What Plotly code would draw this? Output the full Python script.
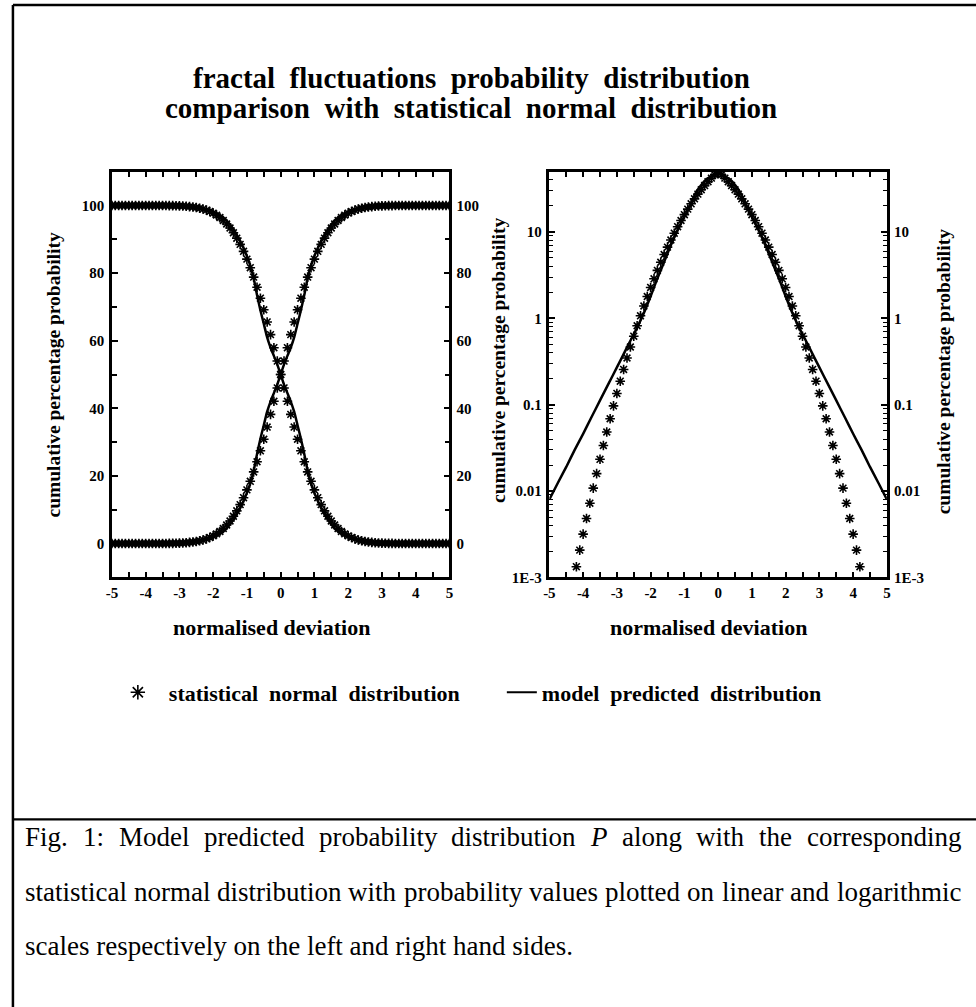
import plotly.graph_objects as go

W, H = 976, 1007
FONT = "Liberation Serif"

# ---------------- data ----------------
# normalised deviation t >= 0 for the statistical normal distribution
t_norm = [0.0, 0.1, 0.2, 0.3, 0.4, 0.5, 0.6, 0.7, 0.8, 0.9,
          1.0, 1.1, 1.2, 1.3, 1.4, 1.5, 1.6, 1.7, 1.8, 1.9,
          2.0, 2.1, 2.2, 2.3, 2.4, 2.5, 2.6, 2.7, 2.8, 2.9,
          3.0, 3.1, 3.2, 3.3, 3.4, 3.5, 3.6, 3.7, 3.8, 3.9,
          4.0, 4.1, 4.2, 4.3, 4.4, 4.5, 4.6, 4.7, 4.8, 4.9, 5.0]
# tail (cumulative) percentage probability of the statistical normal distribution
tail_norm = [50.0, 46.02, 42.07, 38.21, 34.46, 30.85, 27.43, 24.20, 21.19, 18.41,
             15.87, 13.57, 11.51, 9.68, 8.08, 6.68, 5.48, 4.46, 3.59, 2.87,
             2.28, 1.79, 1.39, 1.07, 0.820, 0.621, 0.466, 0.347, 0.256, 0.187,
             0.135, 0.0968, 0.0687, 0.0483, 0.0337, 0.0233, 0.0159, 0.0108, 0.00723, 0.00481,
             0.00317, 0.00207, 0.00133, 0.000854, 0.000541, 0.000340, 0.000211, 0.000130,
             0.0000793, 0.0000479, 0.0000287]

# model predicted distribution, tail percentage probability
t_model = [0.0, 0.1, 0.2, 0.3, 0.4, 0.5, 0.6, 0.7, 0.8, 0.9, 1.0, 1.1, 1.2,
           1.4, 1.6, 1.8, 2.0, 2.2, 2.4, 2.6, 2.8, 3.0, 3.25, 3.5, 3.75,
           4.0, 4.25, 4.5, 4.75, 5.0]
tail_model = [50.0, 47.0, 44.5, 42.0, 39.0, 35.0, 31.0, 26.5, 21.5, 17.8, 15.0, 12.6, 10.5,
              7.0, 4.5, 2.9, 1.8, 1.15, 0.78, 0.55, 0.385, 0.27, 0.174, 0.112, 0.072,
              0.046, 0.030, 0.019, 0.0124, 0.008]

x_ticks = [-5, -4, -3, -2, -1, 0, 1, 2, 3, 4, 5]
x_tick_text = ["-5", "-4", "-3", "-2", "-1", "0", "1", "2", "3", "4", "5"]
lin_ticks = [0, 20, 40, 60, 80, 100]
lin_tick_text = ["0", "20", "40", "60", "80", "100"]
log_ticks = [0.001, 0.01, 0.1, 1, 10]
log_tick_text = ["1E-3", "0.01", "0.1", "1", "10"]
log_minor = [2e-3, 3e-3, 4e-3, 5e-3, 6e-3, 7e-3, 8e-3, 9e-3,
             2e-2, 3e-2, 4e-2, 5e-2, 6e-2, 7e-2, 8e-2, 9e-2,
             0.2, 0.3, 0.4, 0.5, 0.6, 0.7, 0.8, 0.9,
             2, 3, 4, 5, 6, 7, 8, 9, 20, 30, 40]

title_lines = ["fractal fluctuations probability distribution",
               "comparison with statistical normal distribution"]
x_title = "normalised deviation"
y_title = "cumulative percentage probability"
legend_names = ["statistical normal distribution", "model predicted distribution"]
caption_lines = [
    "Fig. 1: Model predicted probability distribution <i>P</i> along with the corresponding",
    "statistical normal distribution with probability values plotted on linear and logarithmic",
    "scales respectively on the left and right hand sides.",
]
caption_justify = [True, True, False]


# ---------------- helpers ----------------
def px(x):
    return x / W


def py(y):
    return 1 - y / H


def mirror(ts, vals):
    xs = [-t for t in reversed(ts[1:])] + list(ts)
    tails = list(reversed(vals[1:])) + list(vals)
    rising = list(reversed(vals[1:])) + [100 - v for v in vals]
    falling = [100 - r for r in rising]
    return xs, tails, rising, falling


def spaced(s, n=2):
    return ("\u00a0" * n).join(s.split(" "))


xn, tailn, risen, falln = mirror(t_norm, tail_norm)
xm, tailm, risem, fallm = mirror(t_model, tail_model)

star = dict(symbol="asterisk-open", size=8, color="black", line=dict(width=1.6, color="black"))
solid = dict(color="black", width=2.5, shape="spline", smoothing=0.6)

fig = go.Figure()
# left (linear) panel
fig.add_trace(go.Scatter(x=xn, y=risen, mode="markers", marker=star, xaxis="x", yaxis="y", showlegend=False))
fig.add_trace(go.Scatter(x=xn, y=falln, mode="markers", marker=star, xaxis="x", yaxis="y", showlegend=False))
fig.add_trace(go.Scatter(x=xm, y=risem, mode="lines", line=solid, xaxis="x", yaxis="y2", showlegend=False))
fig.add_trace(go.Scatter(x=xm, y=fallm, mode="lines", line=solid, xaxis="x", yaxis="y2", showlegend=False))
# right (log) panel
fig.add_trace(go.Scatter(x=xn, y=tailn, mode="markers", marker=star, xaxis="x2", yaxis="y3", showlegend=False))
fig.add_trace(go.Scatter(x=xm, y=tailm, mode="lines", line=solid, xaxis="x2", yaxis="y4", showlegend=False))
# legend entries
fig.add_trace(go.Scatter(x=[None], y=[None], mode="markers", name="\u00a0\u00a0" + spaced(legend_names[0]),
                         marker=dict(symbol="asterisk-open", size=12, color="black", line=dict(width=1.6, color="black")),
                         xaxis="x", yaxis="y", showlegend=True))
fig.add_trace(go.Scatter(x=[None], y=[None], mode="lines", name=spaced(legend_names[1]),
                         line=dict(color="black", width=2), xaxis="x", yaxis="y", showlegend=True))

TICKFONT = dict(family=FONT, size=15, color="black", weight="bold")
LX = [107 / W, 448 / W]
RX = [549 / W, 890 / W]
YD = [1 - 582 / H, 1 - 173 / H]

frame = dict(showline=True, linewidth=2.5, linecolor="black", mirror="allticks", ticks="inside",
             ticklen=6, tickwidth=1.5, tickcolor="black", showgrid=False, zeroline=False,
             tickfont=TICKFONT, fixedrange=True)


def xaxis(domain, anchor):
    d = dict(frame)
    d.update(domain=domain, anchor=anchor, range=[-5, 5], tickmode="array",
             tickvals=x_ticks, ticktext=x_tick_text,
             minor=dict(ticks="inside", tick0=0, dtick=0.5, ticklen=5, tickwidth=1.5,
                        tickcolor="black", showgrid=False))
    return d


yl = dict(frame)
yl.update(domain=YD, anchor="x", range=[-10, 110], tickmode="array", tickvals=lin_ticks,
          ticktext=lin_tick_text, ticklabelstandoff=2,
          minor=dict(ticks="inside", tick0=0, dtick=10, ticklen=5, tickwidth=1.5,
                     tickcolor="black", showgrid=False))
yl2 = dict(overlaying="y", anchor="x", side="right", range=[-10, 110], tickmode="array",
           tickvals=lin_ticks, ticktext=lin_tick_text, showline=False, ticks="",
           ticklabelstandoff=6,
           showgrid=False, zeroline=False, tickfont=TICKFONT, fixedrange=True)

yr = dict(frame)
yr.update(domain=YD, anchor="x2", type="log", range=[-3, 1.69897], tickmode="array",
          tickvals=log_ticks, ticktext=log_tick_text, ticklabelstandoff=2,
          minor=dict(ticks="inside", tickmode="array", tickvals=log_minor, ticklen=4,
                     tickwidth=1.2, tickcolor="black", showgrid=False))
yr2 = dict(overlaying="y3", anchor="x2", side="right", type="log", range=[-3, 1.69897],
           tickmode="array", tickvals=log_ticks, ticktext=log_tick_text, showline=False,
           ticks="", ticklabelstandoff=6,
           showgrid=False, zeroline=False, tickfont=TICKFONT, fixedrange=True)

ann = []
# title
for txt, yy in zip(title_lines, [79, 109]):
    ann.append(dict(text=spaced(txt, 2), x=px(470), y=py(yy), xref="paper", yref="paper",
                    xanchor="center", yanchor="middle", showarrow=False,
                    font=dict(family=FONT, size=29, color="black", weight="bold")))
# axis titles
for xx in [268, 710]:
    ann.append(dict(text=x_title, x=px(xx), y=py(633), xref="paper", yref="paper",
                    xanchor="center", yanchor="middle", showarrow=False,
                    font=dict(family=FONT, size=22, color="black", weight="bold")))
for xx, yy in [(48, 378), (497, 363), (947, 374)]:
    ann.append(dict(text=y_title, x=px(xx), y=py(yy), xref="paper", yref="paper",
                    xanchor="center", yanchor="middle", showarrow=False, textangle=-90,
                    font=dict(family=FONT, size=19.5, color="black", weight="bold")))

# caption (justified like the source)
CAP_SIZE = 27
CAP_W = {'a': 444, 'b': 500, 'c': 444, 'd': 500, 'e': 444, 'f': 333, 'g': 500, 'h': 500,
         'i': 278, 'j': 278, 'k': 500, 'l': 278, 'm': 778, 'n': 500, 'o': 500, 'p': 500,
         'q': 500, 'r': 333, 's': 389, 't': 278, 'u': 500, 'v': 500, 'w': 722, 'x': 500,
         'y': 500, 'z': 444, 'F': 556, 'M': 889, 'P': 611, '1': 500, ':': 278, '.': 250, ' ': 250}


def cap_width(word):
    plain = word.replace("<i>", "").replace("</i>", "")
    return sum(CAP_W.get(c, 500) for c in plain) * CAP_SIZE / 1000


cap_font = dict(family=FONT, size=CAP_SIZE, color="black")
cap_y = [844, 899, 954]
cap_left, cap_right = 17, 962
for line, yy, just in zip(caption_lines, cap_y, caption_justify):
    if just:
        words = line.split(" ")
        widths = [cap_width(w) for w in words]
        gap = (cap_right - cap_left - sum(widths)) / (len(words) - 1)
        xx = cap_left
        for w, wd in zip(words, widths):
            ann.append(dict(text=w, x=px(xx), y=py(yy), xref="paper", yref="paper",
                            xanchor="left", yanchor="middle", showarrow=False, font=cap_font))
            xx += wd + gap
    else:
        ann.append(dict(text=line, x=px(cap_left), y=py(yy), xref="paper", yref="paper",
                        xanchor="left", yanchor="middle", showarrow=False, font=cap_font))

shapes = [
    dict(type="line", xref="paper", yref="paper", x0=px(7), x1=1.02, y0=py(5), y1=py(5),
         line=dict(color="black", width=2.5)),
    dict(type="line", xref="paper", yref="paper", x0=px(7), x1=px(7), y0=py(5), y1=-0.02,
         line=dict(color="black", width=2.5)),
    dict(type="line", xref="paper", yref="paper", x0=px(7), x1=1.02, y0=py(826), y1=py(826),
         line=dict(color="black", width=2.2)),
]

fig.update_layout(
    width=W, height=H, autosize=False,
    margin=dict(l=0, r=0, t=0, b=0),
    paper_bgcolor="white", plot_bgcolor="white",
    xaxis=xaxis(LX, "y"), yaxis=yl, yaxis2=yl2,
    xaxis2=xaxis(RX, "y3"), yaxis3=yr, yaxis4=yr2,
    annotations=ann, shapes=shapes,
    legend=dict(orientation="h", x=px(113), xanchor="left", y=py(698), yanchor="middle",
                font=dict(family=FONT, size=22, color="black", weight="bold"),
                bgcolor="rgba(0,0,0,0)",
                entrywidth=339, entrywidthmode="pixels", itemclick=False),
    showlegend=True,
)

fig.write_html("out.html")
